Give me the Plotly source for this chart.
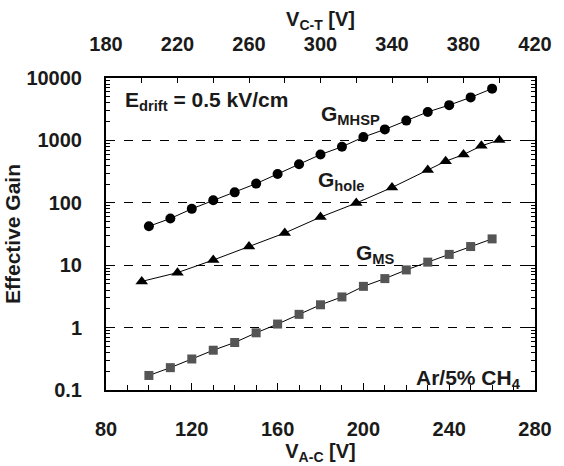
import plotly.graph_objects as go

# ---- data ----
vac_mhsp = [100, 110, 120, 130, 140, 150, 160, 170, 180, 190, 200, 210, 220, 230, 240, 250, 260]
g_mhsp = [42, 56, 80, 110, 147, 203, 290, 415, 593, 790, 1130, 1500, 2075, 2860, 3675, 4890, 6750]

vct_hole = [200, 220, 240, 260, 280, 300, 320, 340, 360, 370, 380, 390, 400]
g_hole = [5.5, 7.6, 12.1, 19.9, 32.8, 59, 99, 176, 335, 463, 593, 818, 1014]

vac_ms = [100, 110, 120, 130, 140, 150, 160, 170, 180, 190, 200, 210, 220, 230, 240, 250, 260]
g_ms = [0.171, 0.228, 0.314, 0.434, 0.577, 0.825, 1.14, 1.63, 2.32, 3.1, 4.58, 6.1, 8.4, 11.2, 14.9, 19.9, 26.4]

vac_ticks = [80, 120, 160, 200, 240, 280]
vct_ticks = [180, 220, 260, 300, 340, 380, 420]
gain_ticks = [0.1, 1, 10, 100, 1000, 10000]
gain_labels = ["0.1", "1", "10", "100", "1000", "10000"]

FONT = "Liberation Sans, Arial, sans-serif"

fig = go.Figure()
fig.add_trace(go.Scatter(x=vac_mhsp, y=g_mhsp, mode="lines+markers",
                         line=dict(color="black", width=1),
                         marker=dict(symbol="circle", size=10, color="black"),
                         showlegend=False))
fig.add_trace(go.Scatter(x=vct_hole, y=g_hole, mode="lines+markers", xaxis="x2",
                         line=dict(color="black", width=1),
                         marker=dict(symbol="triangle-up", size=11, color="black"),
                         showlegend=False))
fig.add_trace(go.Scatter(x=vac_ms, y=g_ms, mode="lines+markers",
                         line=dict(color="black", width=1),
                         marker=dict(symbol="square", size=9, color="#555555"),
                         showlegend=False))

tickfont = dict(family=FONT, size=20, color="#1a1a1a", weight="bold")
titlefont = dict(family=FONT, size=20, color="#1a1a1a", weight="bold")

fig.update_layout(
    width=564, height=466,
    margin=dict(l=101, r=19, t=78, b=66),
    plot_bgcolor="white", paper_bgcolor="white",
    xaxis=dict(range=[80, 280], tickvals=vac_ticks, ticks="inside", ticklen=7,
               tickcolor="black", tickwidth=1, showline=True, linecolor="black",
               linewidth=2, mirror=False, showgrid=False, zeroline=False,
               tickfont=tickfont, ticklabelstandoff=20,
               minor=dict(dtick=10, ticks="inside", ticklen=5, tickcolor="black"),
               title=dict(text="V<sub>A-C</sub> [V]", font=titlefont, standoff=0)),
    xaxis2=dict(range=[180, 420], tickvals=vct_ticks, overlaying="x", side="top",
                ticks="inside", ticklen=5, tickcolor="black", showline=True,
                linecolor="black", linewidth=2, showgrid=False, zeroline=False,
                tickfont=tickfont, ticklabelstandoff=17,
                minor=dict(dtick=20, ticks="inside", ticklen=5, tickcolor="black"),
                title=dict(text="V<sub>C-T</sub> [V]", font=titlefont, standoff=0)),
    yaxis=dict(type="log", range=[-1, 4], tickvals=gain_ticks, ticktext=gain_labels,
               ticks="inside", ticklen=6, tickcolor="black", showline=True,
               linecolor="black", linewidth=2, mirror="ticks",
               showgrid=True, gridcolor="black", gridwidth=1, griddash="dash",
               zeroline=False, tickfont=tickfont, ticklabelstandoff=18,
               minor=dict(dtick="D1", ticks="inside", ticklen=4, tickcolor="black",
                          showgrid=False),
               title=dict(text="Effective Gain", font=dict(family=FONT, size=21,
                          color="#1a1a1a", weight="bold"), standoff=0)),
)

afont = dict(family=FONT, size=21, color="#1a1a1a", weight="bold")
fig.add_annotation(xref="paper", yref="paper", x=0.04, y=0.925, xanchor="left",
                   yanchor="middle", showarrow=False, font=afont,
                   text="E<sub>drift</sub> = 0.5 kV/cm")
fig.add_annotation(xref="paper", yref="paper", x=0.496, y=0.88, xanchor="left",
                   yanchor="middle", showarrow=False, font=afont,
                   text="G<sub>MHSP</sub>")
fig.add_annotation(xref="paper", yref="paper", x=0.489, y=0.67, xanchor="left",
                   yanchor="middle", showarrow=False, font=afont,
                   text="G<sub>hole</sub>")
fig.add_annotation(xref="paper", yref="paper", x=0.579, y=0.437, xanchor="left",
                   yanchor="middle", showarrow=False, font=afont,
                   text="G<sub>MS</sub>")
fig.add_annotation(xref="paper", yref="paper", x=0.972, y=0.035, xanchor="right",
                   yanchor="middle", showarrow=False, font=afont,
                   text="Ar/5% CH<sub>4</sub>")

fig.write_html("out.html")
